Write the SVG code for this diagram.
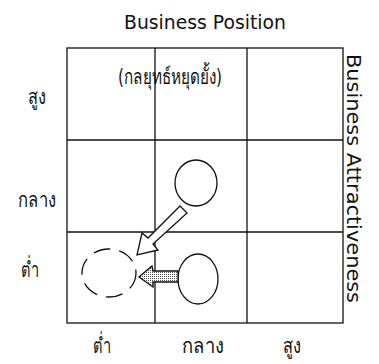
<svg xmlns="http://www.w3.org/2000/svg" width="379" height="364" viewBox="0 0 379 364">
<style>
.lbl{font-family:"DejaVu Sans","Noto Sans",sans-serif;fill:#111;}
.th{font-size:21px;}
.grid{stroke:#111;stroke-width:1.3;fill:none;}
.shape{stroke:#111;stroke-width:1.3;}
</style>
<defs>
<pattern id="stip" width="2" height="2" patternUnits="userSpaceOnUse">
<rect width="2" height="2" fill="#fff"/>
<rect width="1" height="1" fill="#555"/>
</pattern>
</defs>
<rect width="379" height="364" fill="#fff"/>
<g id="grid">
<rect class="grid" x="67" y="48" width="276" height="275"/>
<line class="grid" x1="155" y1="48" x2="155" y2="323"/>
<line class="grid" x1="247" y1="48" x2="247" y2="323"/>
<line class="grid" x1="67" y1="140" x2="343" y2="140"/>
<line class="grid" x1="67" y1="232" x2="343" y2="232"/>
</g>
<g id="labels">
<text class="lbl" x="205" y="29" font-size="19" text-anchor="middle" textLength="162" lengthAdjust="spacingAndGlyphs">Business Position</text>
<text class="lbl th" x="118" y="84" textLength="104" lengthAdjust="spacingAndGlyphs">(กลยุทธ์หยุดยั้ง)</text>
<text class="lbl th" x="28" y="104" textLength="18" lengthAdjust="spacingAndGlyphs">สูง</text>
<text class="lbl th" x="18" y="207" textLength="38" lengthAdjust="spacingAndGlyphs">กลาง</text>
<text class="lbl th" x="21" y="277" textLength="18" lengthAdjust="spacingAndGlyphs">ต่ำ</text>
<text class="lbl th" x="93" y="353" textLength="18" lengthAdjust="spacingAndGlyphs">ต่ำ</text>
<text class="lbl th" x="182" y="353" textLength="42" lengthAdjust="spacingAndGlyphs">กลาง</text>
<text class="lbl th" x="283" y="353" textLength="18" lengthAdjust="spacingAndGlyphs">สูง</text>
<text class="lbl" transform="translate(347,54) rotate(90)" font-size="19" textLength="249" lengthAdjust="spacingAndGlyphs">Business Attractiveness</text>
</g>
<g id="node-current-mid">
<ellipse class="shape" cx="196" cy="183" rx="21" ry="23" fill="#fff"/>
</g>
<g id="node-current-low">
<ellipse class="shape" cx="198" cy="279" rx="20" ry="25" fill="#fff"/>
</g>
<g id="node-target">
<ellipse class="shape" cx="109" cy="273" rx="27" ry="24" fill="none" stroke-dasharray="17 9" stroke-width="1.5"/>
</g>
<g id="connectors">
<polygon class="shape" fill="#fff" points="187,213 180,206 148,238 142,233 137,255 158,250 153,244"/>
<polygon class="shape" fill="url(#stip)" points="178,271 153,271 152,266 139,277 153,287 153,282 178,282"/>
</g>
</svg>
